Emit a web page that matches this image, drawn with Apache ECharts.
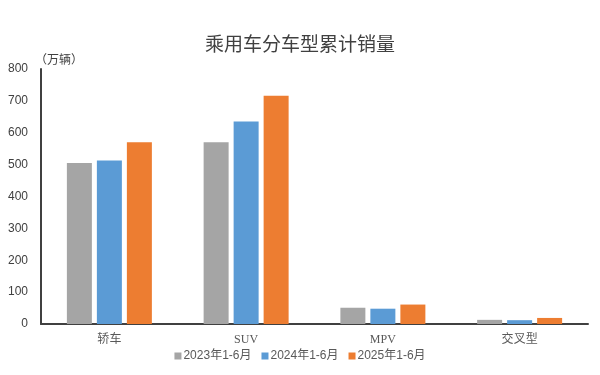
<!DOCTYPE html>
<html><head><meta charset="utf-8">
<script src="https://cdn.jsdelivr.net/npm/echarts@6/dist/echarts.min.js"></script>
<style>html,body{margin:0;padding:0;background:#fff}#c{width:600px;height:375px}</style>
</head><body><div id="c"></div>
<script>
const categories = ['轿车', 'SUV', 'MPV', '交叉型'];
const seriesNames = ['2023年1-6月', '2024年1-6月', '2025年1-6月'];
const v2023 = [505, 570, 51, 13];
const v2024 = [513, 635, 48, 12];
const v2025 = [570, 716, 61, 19];
const yTicks = [0, 100, 200, 300, 400, 500, 600, 700, 800];

const colors = ['#A5A5A5', '#5B9BD5', '#ED7D31'];
const chart = echarts.init(document.getElementById('c'));
const data = [v2023, v2024, v2025];
chart.setOption({
  animation: false,
  title: {
    text: '乘用车分车型累计销量', left: 'center', top: 29,
    textStyle: { fontSize: 19, fontWeight: 'normal', color: '#404040', fontFamily: 'Noto Sans CJK SC' }
  },
  legend: {
    bottom: 8, left: 'center', itemWidth: 7, itemHeight: 7, itemGap: 10,
    icon: 'rect',
    textStyle: { fontSize: 12, color: '#595959', fontFamily: 'Liberation Sans, Noto Sans CJK SC', padding: [0, 0, 0, -3] },
    data: seriesNames
  },
  grid: { left: 41, right: 12, top: 69, bottom: 51 },
  xAxis: {
    type: 'category', data: categories,
    axisLine: { lineStyle: { color: '#404040', width: 2 } },
    axisTick: { show: false },
    axisLabel: { fontSize: 12, color: '#595959', fontFamily: 'Liberation Serif, Noto Sans CJK SC', margin: 10 }
  },
  yAxis: {
    type: 'value', min: yTicks[0], max: yTicks[yTicks.length - 1], interval: 100,
    name: '（万辆）', nameLocation: 'end', nameGap: 4,
    nameTextStyle: { fontSize: 12, color: '#404040', align: 'left', padding: [0, 0, 0, -6], fontFamily: 'Noto Sans CJK SC' },
    axisLine: { show: true, lineStyle: { color: '#404040', width: 2 } },
    axisTick: { show: false },
    splitLine: { show: false },
    axisLabel: { fontSize: 12, color: '#404040', fontFamily: 'Liberation Sans', margin: 13 }
  },
  series: seriesNames.map((n, i) => ({
    name: n, type: 'bar', data: data[i], barWidth: 25, barGap: '20%',
    itemStyle: { color: colors[i] }
  }))
});
</script></body></html>
